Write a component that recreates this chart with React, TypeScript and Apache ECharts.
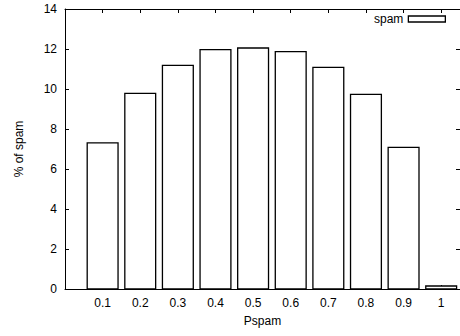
import React, { useEffect, useRef } from "react";
import * as echarts from "echarts";

const pspam = [0.1, 0.2, 0.3, 0.4, 0.5, 0.6, 0.7, 0.8, 0.9, 1.0];
const spamPct = [7.31, 9.78, 11.18, 11.97, 12.05, 11.87, 11.08, 9.73, 7.08, 0.15];
const seriesName = "spam";
const xTitle = "Pspam";
const yTitle = "% of spam";

const BOX_WIDTH = 0.082;
const FONT = "'Liberation Sans', Arial, Helvetica, sans-serif";

export default function App() {
  const ref = useRef<HTMLDivElement>(null);
  useEffect(() => {
    document.body.style.margin = "0";
    document.body.style.overflow = "hidden";
    const chart = echarts.init(ref.current!, null, { renderer: "svg" });
    const tickStyle = { show: true, inside: true, length: 4, lineStyle: { color: "#000", width: 1 } };
    const lineStyle = { show: true, onZero: false, lineStyle: { color: "#000", width: 1 } };
    const xFmt = (v: number) => {
      if (v < 0.05 || v > 1.01) return "";
      const s = v.toFixed(1);
      return s === "1.0" ? "1" : s;
    };
    chart.setOption({
      animation: false,
      textStyle: { fontFamily: FONT },
      grid: { left: 65, top: 9, right: -2, bottom: 47, containLabel: false },
      legend: {
        show: true,
        right: 14,
        top: 13,
        padding: 0,
        align: "right",
        itemWidth: 37,
        itemHeight: 6,
        itemGap: 6,
        textStyle: { fontFamily: FONT, fontSize: 12, color: "#000", padding: [0, 0, 0, 0] },
        data: [
          {
            name: seriesName,
            icon: "rect",
            itemStyle: { color: "#fff", borderColor: "#000", borderWidth: 1.3 },
          },
        ],
      },
      xAxis: [
        {
          type: "value",
          position: "bottom",
          min: 0,
          max: 1.05,
          interval: 0.1,
          name: xTitle,
          nameLocation: "middle",
          nameGap: 26,
          nameTextStyle: { fontFamily: FONT, fontSize: 12, color: "#000" },
          axisLine: lineStyle,
          axisTick: tickStyle,
          splitLine: { show: false },
          axisLabel: { color: "#000", fontSize: 12, fontFamily: FONT, margin: 8, formatter: xFmt, showMaxLabel: false },
        },
        {
          type: "value",
          position: "top",
          min: 0,
          max: 1.05,
          interval: 0.1,
          axisLine: lineStyle,
          axisTick: tickStyle,
          splitLine: { show: false },
          axisLabel: { show: false },
        },
      ],
      yAxis: [
        {
          type: "value",
          position: "left",
          min: 0,
          max: 14,
          interval: 2,
          name: yTitle,
          nameLocation: "middle",
          nameGap: 40,
          nameTextStyle: { fontFamily: FONT, fontSize: 12, color: "#000" },
          axisLine: lineStyle,
          axisTick: tickStyle,
          splitLine: { show: false },
          axisLabel: { color: "#000", fontSize: 12, fontFamily: FONT, margin: 8 },
        },
        {
          type: "value",
          position: "right",
          min: 0,
          max: 14,
          interval: 2,
          axisLine: lineStyle,
          axisTick: tickStyle,
          splitLine: { show: false },
          axisLabel: { show: false },
        },
      ],
      series: [
        {
          name: seriesName,
          type: "custom",
          xAxisIndex: 0,
          yAxisIndex: 0,
          data: pspam.map((x, i) => [x, spamPct[i]]),
          renderItem: (params: any, api: any) => {
            const x = api.value(0);
            const y = api.value(1);
            const p0 = api.coord([x - BOX_WIDTH / 2, y]);
            const p1 = api.coord([x + BOX_WIDTH / 2, 0]);
            return {
              type: "rect",
              shape: { x: p0[0], y: p0[1], width: p1[0] - p0[0], height: p1[1] - p0[1] },
              style: { fill: "#fff", stroke: "#000", lineWidth: 1.3 },
            };
          },
        },
      ],
    });
    return () => chart.dispose();
  }, []);
  return <div ref={ref} style={{ width: 460, height: 336 }} />;
}
